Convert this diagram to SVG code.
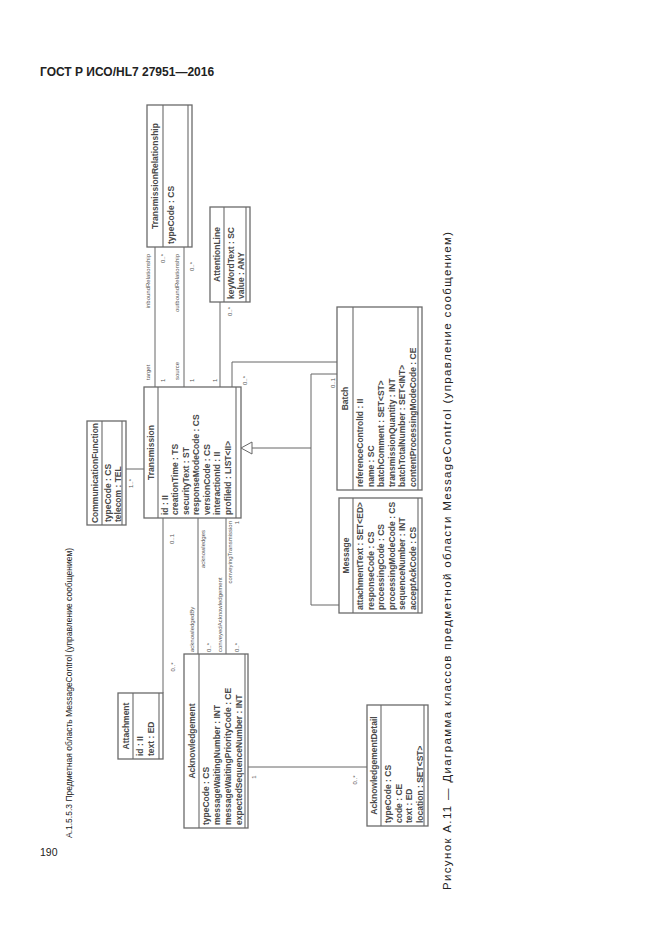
<svg xmlns="http://www.w3.org/2000/svg" width="661" height="935" viewBox="0 0 661 935">
<style>
.bg{fill:#ffffff}
.box{fill:#ffffff;stroke:#6a6a6a;stroke-width:1.3}
.sep{fill:none;stroke:#6a6a6a;stroke-width:1.1}
.nm,.at{font-family:"Liberation Sans",Arial,sans-serif;font-size:8.5px;font-weight:bold;fill:#4a4a4a}
.nm{text-anchor:middle}
.lb{font-family:"Liberation Sans",Arial,sans-serif;font-size:6px;fill:#555}
.e{text-anchor:end}
.m{text-anchor:middle}
.pg{font-family:"Liberation Sans",Arial,sans-serif;fill:#222}
#connectors path{fill:none;stroke:#666;stroke-width:1}
#connectors polygon{fill:#fff;stroke:#666;stroke-width:1}
</style>
<rect class="bg" x="0" y="0" width="661" height="935"/>
<text class="pg" x="40" y="76" font-size="12" font-weight="bold">ГОСТ Р ИСО/HL7 27951—2016</text>
<text class="pg" x="40" y="856" font-size="10.5">190</text>
<text class="pg" font-size="8.5" transform="translate(72,838) rotate(-90)">А.1.5.5.3 Предметная область MessageControl (управление сообщением)</text>
<text class="pg" font-size="11.5" textLength="658" lengthAdjust="spacing" transform="translate(451,890) rotate(-90)">Рисунок А.11 — Диаграмма классов предметной области MessageControl (управление сообщением)</text>

<g id="connectors">
<path d="M155,247V387"/>
<path d="M184,247V387"/>
<path d="M220,302V387"/>
<path d="M232,387V362H337"/>
<path d="M126,469H144"/>
<path d="M163,518V693"/>
<path d="M198,518V654"/>
<path d="M226,518V654"/>
<path d="M248,767H367"/>
<path d="M252,448H311M311,374V605M311,374H337M311,605H339"/>
<polygon points="241,448 252,442 252,454"/>
<text class="lb e" transform="translate(150.2,254) rotate(-90)">inboundRelationship</text>
<text class="lb e" transform="translate(165.2,254) rotate(-90)">0..*</text>
<text class="lb e" transform="translate(179.2,254) rotate(-90)">outboundRelationship</text>
<text class="lb e" transform="translate(194.2,262) rotate(-90)">0..*</text>
<text class="lb" transform="translate(150.2,380) rotate(-90)">target</text>
<text class="lb" transform="translate(165.2,382) rotate(-90)">1</text>
<text class="lb" transform="translate(179.2,380) rotate(-90)">source</text>
<text class="lb" transform="translate(194.2,382) rotate(-90)">1</text>
<text class="lb e" transform="translate(232.2,307) rotate(-90)">0..*</text>
<text class="lb" transform="translate(217.2,382) rotate(-90)">1</text>
<text class="lb" transform="translate(247.2,385) rotate(-90)">0..*</text>
<text class="lb" transform="translate(335.2,388) rotate(-90)">0..1</text>
<text class="lb" transform="translate(133.2,488) rotate(-90)">1..*</text>
<text class="lb e" transform="translate(174.2,534) rotate(-90)">0..1</text>
<text class="lb m" transform="translate(175.2,667) rotate(-90)">0..*</text>
<text class="lb e" transform="translate(205.2,530) rotate(-90)">acknowledges</text>
<text class="lb" transform="translate(194.2,652) rotate(-90)">acknowledgedBy</text>
<text class="lb" transform="translate(211.2,652) rotate(-90)">0..*</text>
<text class="lb e" transform="translate(232.2,521) rotate(-90)">conveyingTransmission</text>
<text class="lb e" transform="translate(239.2,521) rotate(-90)">1</text>
<text class="lb" transform="translate(222.2,652) rotate(-90)">conveyedAcknowledgement</text>
<text class="lb" transform="translate(239.2,652) rotate(-90)">0..*</text>
<text class="lb m" transform="translate(256.2,777) rotate(-90)">1</text>
<text class="lb m" transform="translate(357.2,780) rotate(-90)">0..*</text>
</g>

<g id="transmissionRelationship">
<rect class="box" x="147" y="105" width="45" height="142"/>
<path class="sep" d="M163,105V247M188,105V247"/>
<text class="nm" transform="translate(158.1,176) rotate(-90)">TransmissionRelationship</text>
<text class="at" transform="translate(174.1,244) rotate(-90)">typeCode : CS</text>
</g>

<g id="attentionLine">
<rect class="box" x="210" y="207" width="40" height="95"/>
<path class="sep" d="M224,207V302M246,207V302"/>
<text class="nm" transform="translate(220.1,254.5) rotate(-90)">AttentionLine</text>
<text class="at" transform="translate(234.1,299) rotate(-90)">keyWordText : SC</text>
<text class="at" transform="translate(243.6,299) rotate(-90)">value : ANY</text>
</g>

<g id="communicationFunction">
<rect class="box" x="87" y="421" width="39" height="104"/>
<path class="sep" d="M102,421V525M122,421V525"/>
<text class="nm" transform="translate(97.6,473) rotate(-90)">CommunicationFunction</text>
<text class="at" transform="translate(111.1,522) rotate(-90)">typeCode : CS</text>
<text class="at" transform="translate(120.6,522) rotate(-90)">telecom : TEL</text>
</g>

<g id="transmission">
<rect class="box" x="144" y="387" width="97" height="131"/>
<path class="sep" d="M158,387V518M236,387V518"/>
<text class="nm" transform="translate(154.1,452.5) rotate(-90)">Transmission</text>
<text class="at" transform="translate(167.6,515) rotate(-90)">id : II</text>
<text class="at" transform="translate(178.1,515) rotate(-90)">creationTime : TS</text>
<text class="at" transform="translate(188.6,515) rotate(-90)">securityText : ST</text>
<text class="at" transform="translate(199.1,515) rotate(-90)">responseModeCode : CS</text>
<text class="at" transform="translate(209.6,515) rotate(-90)">versionCode : CS</text>
<text class="at" transform="translate(220.1,515) rotate(-90)">interactionId : II</text>
<text class="at" transform="translate(230.6,515) rotate(-90)">profileId : LIST&lt;II&gt;</text>
</g>

<g id="batch">
<rect class="box" x="337" y="307" width="85" height="183"/>
<path class="sep" d="M353,307V490M418,307V490"/>
<text class="nm" transform="translate(348.1,398.5) rotate(-90)">Batch</text>
<text class="at" transform="translate(363.1,487) rotate(-90)">referenceControlId : II</text>
<text class="at" transform="translate(373.6,487) rotate(-90)">name : SC</text>
<text class="at" transform="translate(384.1,487) rotate(-90)">batchComment : SET&lt;ST&gt;</text>
<text class="at" transform="translate(394.6,487) rotate(-90)">transmissionQuantity : INT</text>
<text class="at" transform="translate(405.1,487) rotate(-90)">batchTotalNumber : SET&lt;INT&gt;</text>
<text class="at" transform="translate(415.6,487) rotate(-90)">contentProcessingModeCode : CE</text>
</g>

<g id="message">
<rect class="box" x="339" y="498" width="83" height="115"/>
<path class="sep" d="M353,498V613M418,498V613"/>
<text class="nm" transform="translate(349.1,555.5) rotate(-90)">Message</text>
<text class="at" transform="translate(363.1,610) rotate(-90)">attachmentText : SET&lt;ED&gt;</text>
<text class="at" transform="translate(373.6,610) rotate(-90)">responseCode : CS</text>
<text class="at" transform="translate(384.1,610) rotate(-90)">processingCode : CS</text>
<text class="at" transform="translate(394.6,610) rotate(-90)">processingModeCode : CS</text>
<text class="at" transform="translate(405.1,610) rotate(-90)">sequenceNumber : INT</text>
<text class="at" transform="translate(415.6,610) rotate(-90)">acceptAckCode : CS</text>
</g>

<g id="acknowledgement">
<rect class="box" x="184" y="654" width="64" height="174"/>
<path class="sep" d="M199,654V828M245,654V828"/>
<text class="nm" transform="translate(194.6,741) rotate(-90)">Acknowledgement</text>
<text class="at" transform="translate(209.1,825) rotate(-90)">typeCode : CS</text>
<text class="at" transform="translate(220.1,825) rotate(-90)">messageWaitingNumber : INT</text>
<text class="at" transform="translate(231.1,825) rotate(-90)">messageWaitingPriorityCode : CE</text>
<text class="at" transform="translate(242.1,825) rotate(-90)">expectedSequenceNumber : INT</text>
</g>

<g id="attachment">
<rect class="box" x="118" y="693" width="45" height="66"/>
<path class="sep" d="M133,693V759M159,693V759"/>
<text class="nm" transform="translate(128.6,726) rotate(-90)">Attachment</text>
<text class="at" transform="translate(143.1,756) rotate(-90)">id : II</text>
<text class="at" transform="translate(154.1,756) rotate(-90)">text : ED</text>
</g>

<g id="acknowledgementDetail">
<rect class="box" x="367" y="705" width="61" height="121"/>
<path class="sep" d="M381,705V826M424,705V826"/>
<text class="nm" transform="translate(377.1,765.5) rotate(-90)">AcknowledgementDetail</text>
<text class="at" transform="translate(391.1,823) rotate(-90)">typeCode : CS</text>
<text class="at" transform="translate(401.6,823) rotate(-90)">code : CE</text>
<text class="at" transform="translate(412.1,823) rotate(-90)">text : ED</text>
<text class="at" transform="translate(422.6,823) rotate(-90)">location : SET&lt;ST&gt;</text>
</g>
</svg>
